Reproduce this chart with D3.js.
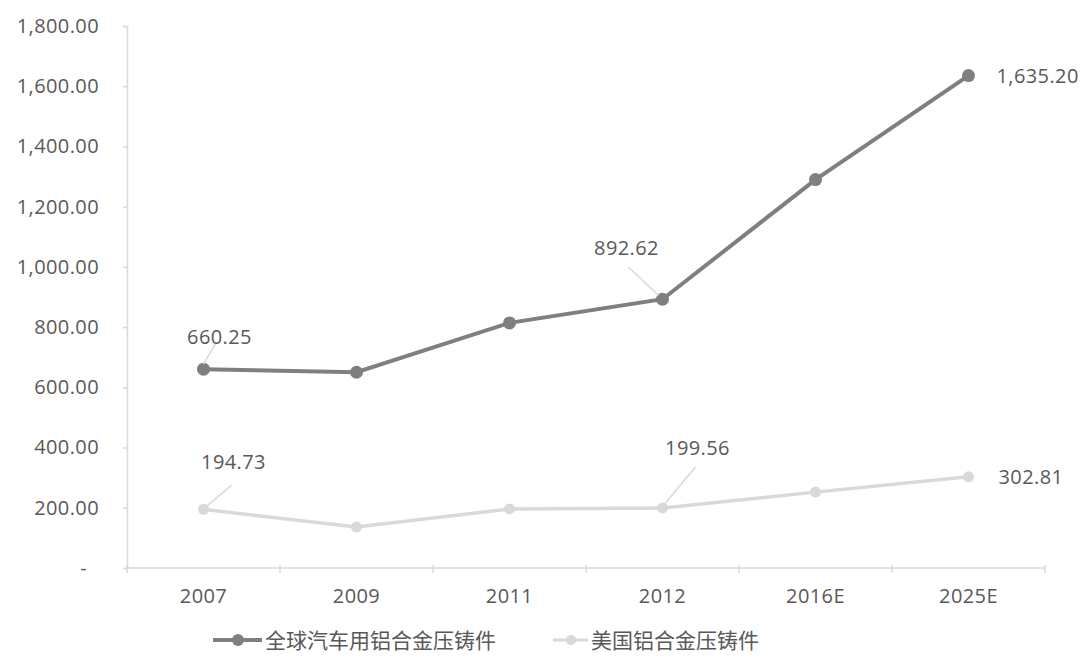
<!DOCTYPE html>
<html>
<head>
<meta charset="utf-8">
<script src="https://cdn.jsdelivr.net/npm/d3@7"></script>
<style>
  body { margin: 0; background: #fff; }
  text { font-family: 'Open Sans', 'Noto Sans CJK SC', sans-serif; fill: #595959; }
</style>
</head>
<body>
<script>
// chart values
var years = ['2007', '2009', '2011', '2012', '2016E', '2025E']
var globalVals = [660.25, 650, 814, 892.62, 1290, 1635.20]
var usVals = [194.73, 136, 196, 199.56, 252, 302.81]
var yTicks = [0, 200, 400, 600, 800, 1000, 1200, 1400, 1600, 1800]
var seriesNames = ['全球汽车用铝合金压铸件', '美国铝合金压铸件']

var width = 1083
var height = 660
var margin = {left: 127, right: 38, top: 26, bottom: 92}
var globalColor = '#7f7f7f'
var usColor = '#d9d9d9'

var svg = d3.select('body').append('svg')
  .attr('width', width)
  .attr('height', height)

var x = d3.scalePoint()
  .domain(years)
  .range([margin.left, width - margin.right])
  .padding(0.5)

var y = d3.scaleLinear()
  .domain([0, 1800])
  .range([height - margin.bottom, margin.top])

var fmt = d3.format(',.2f')

// y axis
var yAxis = svg.append('g')
  .attr('transform', 'translate(' + margin.left + ',0)')
  .call(d3.axisLeft(y).tickValues(yTicks).tickSize(4).tickPadding(24)
    .tickFormat(d => d === 0 ? '-' : fmt(d)))
yAxis.selectAll('line, path').attr('stroke', '#d9d9d9').attr('stroke-width', 1.5)
yAxis.selectAll('text')
  .style('font-size', '20px')
  .style('letter-spacing', '0.4px')
  .attr('fill', '#595959')
yAxis.selectAll('.tick').filter(d => d === 0).select('text').attr('dx', -12)

// x axis, ticks at the category boundaries
var step = x.step()
var xAxis = svg.append('g')
  .attr('transform', 'translate(0,' + y(0) + ')')
xAxis.append('line')
  .attr('x1', margin.left).attr('x2', width - margin.right)
  .attr('stroke', '#d9d9d9').attr('stroke-width', 1.5)
xAxis.selectAll('line.tk')
  .data(d3.range(years.length + 1)).enter()
  .append('line')
  .attr('class', 'tk')
  .attr('x1', i => margin.left + i * step)
  .attr('x2', i => margin.left + i * step)
  .attr('y1', -3).attr('y2', 5)
  .attr('stroke', '#d9d9d9').attr('stroke-width', 1.5)
xAxis.selectAll('text')
  .data(years).enter()
  .append('text')
  .attr('x', d => x(d))
  .attr('y', 35)
  .attr('text-anchor', 'middle')
  .style('font-size', '20px')
  .style('letter-spacing', '0.4px')
  .text(d => d)

var line = d3.line()
  .x((d, i) => x(years[i]))
  .y(d => y(d))

function drawSeries (vals, color, w, r) {
  svg.append('path')
    .datum(vals)
    .attr('d', line)
    .attr('fill', 'none')
    .attr('stroke', color)
    .attr('stroke-width', w)
  svg.append('g').selectAll('circle')
    .data(vals).enter()
    .append('circle')
    .attr('cx', (d, i) => x(years[i]))
    .attr('cy', d => y(d))
    .attr('r', r)
    .attr('fill', color)
}

drawSeries(usVals, usColor, 3.5, 5.5)
drawSeries(globalVals, globalColor, 4, 6.5)

// data labels: values, index, text offset, anchor, leader offsets (top, bottom)
var labels = [
  {vals: globalVals, i: 0, dx: 16, dy: -25, anchor: 'middle', lead: [13, -27, 0, -5]},
  {vals: globalVals, i: 3, dx: -36, dy: -44, anchor: 'middle', lead: [-34, -32, -4, -4]},
  {vals: globalVals, i: 5, dx: 28, dy: 7, anchor: 'start'},
  {vals: usVals, i: 0, dx: 30, dy: -40, anchor: 'middle', lead: [28, -24, 3, -3]},
  {vals: usVals, i: 3, dx: 35, dy: -53, anchor: 'middle', lead: [33, -41, 2, -4]},
  {vals: usVals, i: 5, dx: 30, dy: 7, anchor: 'start'}
]
labels.forEach(l => {
  var v = l.vals[l.i]
  var px = x(years[l.i])
  var py = y(v)
  if (l.lead) {
    svg.append('line')
      .attr('x1', px + l.lead[0])
      .attr('y1', py + l.lead[1])
      .attr('x2', px + l.lead[2])
      .attr('y2', py + l.lead[3])
      .attr('stroke', '#d9d9d9')
      .attr('stroke-width', 1.5)
  }
  svg.append('text')
    .attr('x', px + l.dx)
    .attr('y', py + l.dy)
    .attr('text-anchor', l.anchor)
    .style('font-size', '20px')
    .style('letter-spacing', '0.4px')
    .text(fmt(v))
})

// legend
var legend = svg.append('g').attr('transform', 'translate(0,640)')
legend.append('line')
  .attr('x1', 213).attr('x2', 262)
  .attr('stroke', globalColor).attr('stroke-width', 4)
legend.append('circle').attr('cx', 238).attr('r', 6).attr('fill', globalColor)
legend.append('text')
  .attr('x', 265).attr('dy', '0.36em')
  .style('font-size', '21px')
  .text(seriesNames[0])
legend.append('line')
  .attr('x1', 553).attr('x2', 588)
  .attr('stroke', usColor).attr('stroke-width', 3)
legend.append('circle').attr('cx', 571).attr('r', 5).attr('fill', usColor)
legend.append('text')
  .attr('x', 591).attr('dy', '0.36em')
  .style('font-size', '21px')
  .text(seriesNames[1])
</script>
</body>
</html>
